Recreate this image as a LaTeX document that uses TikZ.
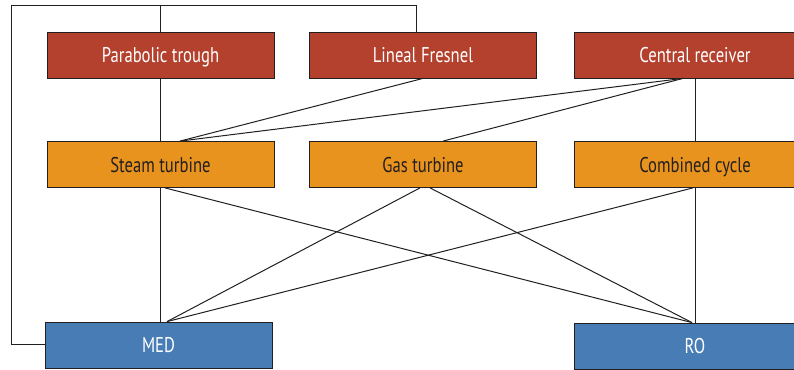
\documentclass[tikz,border=0pt]{standalone}
\usepackage{fontspec}
\setmainfont{PT Sans}[FakeStretch=0.78]
\usetikzlibrary{calc,positioning}

\definecolor{solarred}{HTML}{B3412E}
\definecolor{cycleorange}{HTML}{E8931E}
\definecolor{desalblue}{HTML}{477CB5}
\definecolor{inkgrey}{HTML}{231F20}

\begin{document}
\begin{tikzpicture}[
  x=0.75pt, y=-0.75pt,
  font=\fontsize{16}{18}\selectfont,
  box/.style={draw=inkgrey, line width=0.6pt, minimum width=170.25pt, minimum height=34.5pt, inner sep=0pt, text height=12pt, text depth=0pt, align=center},
  widebox/.style={minimum width=181.5pt},
  solar/.style={box, fill=solarred, text=white},
  cycle/.style={box, fill=cycleorange, text=inkgrey},
  desal/.style={box, fill=desalblue, text=white},
  link/.style={draw=inkgrey, line width=0.75pt}
]
\useasboundingbox (0,0) rectangle (794,370);
% solar collectors
\node[solar] (trough) at (160.5,55) {Parabolic trough};
\node[solar] (fresnel) at (423,55) {Lineal Fresnel};
\node[solar, widebox] (central) at (695,55) {Central receiver};
% power cycles
\node[cycle] (steam) at (160.5,164.5) {Steam turbine};
\node[cycle] (gas) at (423,164.5) {Gas turbine};
\node[cycle, widebox] (combined) at (695,164.5) {Combined cycle};
% desalination
\node[desal] (med) at (158.5,345) {MED};
\node[desal, widebox] (ro) at (695,346) {RO};

% outer loop
\coordinate (loop) at (11,6);
\draw[link] (med.west) -| (loop) -| ($(fresnel.north)+(-7,0)$);
\draw[link] (trough.north) -- (trough.north |- loop);
% collectors to cycles
\draw[link] (trough.south) -- (steam.north);
\draw[link] (fresnel.south) -- ($(steam.north)+(19.5,0)$);
\draw[link] ($(central.south)+(-12,0)$) -- ($(steam.north)+(19.5,0)$);
\draw[link] ($(central.south)+(-12,0)$) -- ($(gas.north)+(20,0)$);
\draw[link] (central.south) -- (combined.north);
% cycles to desalination
\draw[link] (steam.south) -- (steam.south |- med.north);
\draw[link] ($(steam.south)+(4.5,0)$) -- ($(ro.north)+(-3,0)$);
\draw[link] ($(gas.south)+(-3,0)$) -- ($(med.north)+(8.5,0)$);
\draw[link] ($(gas.south)+(7,0)$) -- ($(ro.north)+(-3,0)$);
\draw[link] ($(combined.south)+(-2,0)$) -- ($(med.north)+(8.5,0)$);
\draw[link] (combined.south) -- (ro.north);
\end{tikzpicture}
\end{document}
